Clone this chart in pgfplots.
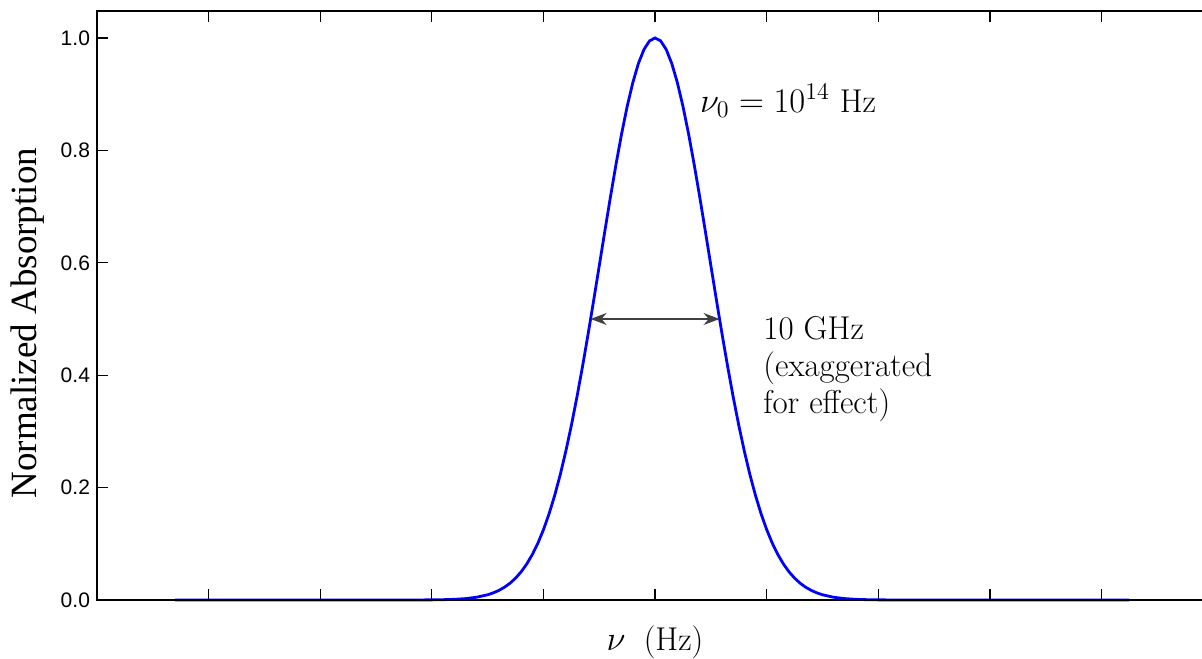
\documentclass[border=0pt]{standalone}
\usepackage{fontspec}
\newfontfamily\arialfont{Liberation Sans}
\newfontfamily\timesfont{Liberation Serif}
\usepackage{pgfplots}
\pgfplotsset{compat=1.18}
\usetikzlibrary{arrows.meta}

\begin{document}
\begin{tikzpicture}
\begin{axis}[
  scale only axis, width=552.5pt, height=294.5pt,
  xmin=-5, xmax=4.9, ymin=0, ymax=1.048,
  axis line style={draw=none},
  xtick={-4,-3,...,4}, xticklabels={},
  ytick={0,0.2,...,1.0}, ytick pos=left,
  tick align=inside, major tick length=5.5pt,
  tick style={black, line width=0.6pt},
  yticklabel style={font=\arialfont\fontsize{10.5}{12}\selectfont, /pgf/number format/assume math mode=true,
    /pgf/number format/fixed, /pgf/number format/fixed zerofill, /pgf/number format/precision=1},
  ylabel={\timesfont\fontsize{18.5}{20}\selectfont Normalized Absorption},
  y label style={at={(axis description cs:-0.063,0.47)}, anchor=center},
  xlabel={\fontsize{16.5}{18}\selectfont $\nu$\hspace{0.55em}(Hz)},
  x label style={at={(axis cs:0,0)}, anchor=base, yshift=-25pt},
  clip=false,
]
\addplot[blue, line width=1.4pt] table {
x y
-4.30 0
-2.40 0
-2.20 0.00004
-2.00 0.00025
-1.90 0.00055
-1.80 0.00119
-1.70 0.00246
-1.60 0.00489
-1.50 0.00931
-1.45 0.01266
-1.40 0.01702
-1.35 0.02265
-1.30 0.02983
-1.25 0.03888
-1.20 0.05015
-1.15 0.06402
-1.10 0.08088
-1.05 0.10113
-1.00 0.12514
-0.95 0.15325
-0.90 0.18570
-0.85 0.22278
-0.80 0.26448
-0.75 0.31067
-0.70 0.36120
-0.65 0.41558
-0.60 0.47320
-0.55 0.53329
-0.50 0.59480
-0.45 0.65649
-0.40 0.71710
-0.35 0.77524
-0.30 0.82940
-0.25 0.87819
-0.20 0.92020
-0.15 0.95430
-0.10 0.97940
-0.05 0.99480
0.00 1.00000
0.05 0.99480
0.10 0.97940
0.15 0.95430
0.20 0.92020
0.25 0.87819
0.30 0.82940
0.35 0.77524
0.40 0.71710
0.45 0.65649
0.50 0.59480
0.55 0.53329
0.60 0.47320
0.65 0.41558
0.70 0.36120
0.75 0.31067
0.80 0.26448
0.85 0.22278
0.90 0.18570
0.95 0.15325
1.00 0.12514
1.05 0.10113
1.10 0.08088
1.15 0.06402
1.20 0.05015
1.25 0.03888
1.30 0.02983
1.35 0.02265
1.40 0.01702
1.45 0.01266
1.50 0.00931
1.60 0.00489
1.70 0.00246
1.80 0.00119
1.90 0.00055
2.00 0.00025
2.20 0.00004
2.40 0
4.25 0
};
% axis frame, right side cut off as in the reference
\draw[black, line width=0.9pt] (rel axis cs:1,1) -- (rel axis cs:0,1) -- (rel axis cs:0,0) -- (rel axis cs:1,0);
% width arrow and labels
\draw[<->, >={Stealth[length=8pt,width=6pt]}, line width=0.7pt, black!75] (axis cs:-0.5775,0.5) -- (axis cs:0.5775,0.5);
\node[anchor=base west, inner sep=0pt, font=\fontsize{16.5}{18}\selectfont] at (axis cs:0.40,0.868) {$\nu_0 = 10^{14}$ Hz};
\node[anchor=north west, inner sep=0pt, align=left, font=\fontsize{16.5}{18.5}\selectfont] at (axis cs:0.967,0.505) {10 GHz\\(exaggerated\\for effect)};
\end{axis}
\pgfresetboundingbox
\path[use as bounding box] (-48.5pt,-29pt) rectangle (552.5pt,300pt);
\end{tikzpicture}
\end{document}
